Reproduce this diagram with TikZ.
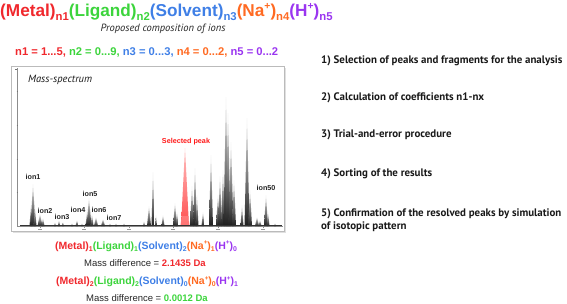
\documentclass[tikz,border=0pt]{standalone}
\usepackage{fontspec}
\setmainfont{Liberation Sans}
\newfontfamily\myr{PT Sans}
\usepackage{graphicx}
\definecolor{cM}{HTML}{F0282D}
\definecolor{cL}{HTML}{3CD43C}
\definecolor{cS}{HTML}{3F7FE6}
\definecolor{cN}{HTML}{FF6A22}
\definecolor{cH}{HTML}{9A35F0}
\definecolor{boxg}{HTML}{BBBBBB}
\newcommand\lo[1]{\raisebox{-0.22em}{\scalebox{0.66}{#1}}}
\newcommand\hi[1]{\raisebox{0.42em}{\scalebox{0.6}{#1}}}
\newcommand\pk[3]{\shade[top color=black!8,bottom color=black!88] (#1-#3,226) -- (#1,#2) -- (#1+#3,226) -- cycle;}
\tikzset{
  titl/.style={inner sep=0pt, font=\bfseries\fontsize{17.2}{20}\selectfont},
  form/.style={inner sep=0pt, anchor=base, font=\bfseries\fontsize{10.5}{12}\selectfont},
  mdiff/.style={inner sep=0pt, anchor=base, font=\fontsize{9.5}{11}\selectfont, text=black!85},
  ionlab/.style={inner sep=0pt, font=\bfseries\fontsize{7.2}{8}\selectfont, text=black!85},
  stepbox/.style={inner sep=0pt, anchor=base west, font=\myr\bfseries\fontsize{10.9}{13}\selectfont, text=black!90, align=left},
}
\begin{document}
\begin{tikzpicture}[x=1pt,y=-1pt]
\useasboundingbox (0,0) rectangle (567,303);
% title
\node[titl, anchor=base west] (title) at (0,16.5) {\textcolor{cM}{(Metal)\lo{n1}}\textcolor{cL}{(Ligand)\lo{n2}}\textcolor{cS}{(Solvent)\lo{n3}}\textcolor{cN}{(Na\hi{+})\lo{n4}}\textcolor{cH}{(H\hi{+})\lo{n5}}};
\node[inner sep=0pt, font=\myr\itshape\fontsize{10.5}{12}\selectfont, text=black!85] (sub) at (163,28.5) {Proposed composition of ions};
\node[inner sep=0pt, anchor=base west, font=\bfseries\fontsize{11.2}{13}\selectfont] (nline) at (15,55.5) {\textcolor{cM}{n1 = 1...5,} \textcolor{cL}{n2 = 0...9,} \textcolor{cS}{n3 = 0...3,} \textcolor{cN}{n4 = 0...2,} \textcolor{cH}{n5 = 0...2}};
% spectrum box
\fill[black!12] (12.5,67.5) rectangle (285.5,232.5);
\draw[boxg, fill=white, line width=0.8pt] (11,66) rectangle (284,231);
\draw[black!45, line width=0.4pt] (17,68) -- (17,226) -- (283,226);
\foreach \yy in {91,125,159,192} \draw[black!55, line width=0.8pt] (16.5,\yy) -- (17.8,\yy);
\draw[black!55, line width=0.6pt] (15,69) -- (17,69);
\foreach \xx in {40,84,129,173,218,263} {\draw[black!45] (\xx,226) -- (\xx,227.5); \draw[black!40, line width=0.7pt] (\xx-2,229.5) -- (\xx+2,229.5);}
\node[inner sep=0pt, anchor=base west, font=\myr\itshape\fontsize{10.5}{12}\selectfont, text=black!90] (mslab) at (28,82) {Mass-spectrum};
% peaks
\pk{31}{205}{1.5}\pk{33}{184}{2.5}\pk{35}{208}{1.5}
\pk{40}{214}{2.5}\pk{43}{218}{1.5}
\pk{55}{222}{1}\pk{59}{220}{1.2}\pk{63}{222}{1}
\pk{72}{223}{1}\pk{77}{220}{1.5}\pk{82}{223}{1}
\pk{87}{212}{1.5}\pk{89}{198}{2.5}\pk{92}{214}{1.5}
\pk{96}{217}{2}\pk{103}{219}{2}
\pk{110}{223}{1}\pk{116}{223}{1}\pk{124}{223}{1}
\pk{144}{221}{1}\pk{149}{206}{2}\pk{153}{172}{1.5}\pk{156}{215}{1}
\pk{163}{215}{1.5}
\pk{175}{203}{2}\pk{177}{212}{1.5}
\shade[top color=red!25, bottom color=red!70] (181,226) -- (185,148) -- (189,226) -- cycle;
\fill[red!45, opacity=0.6] (180,226) -- (182,216) -- (188,216) -- (190,226) -- cycle;
\pk{192}{186}{2}\pk{195}{168}{2}\pk{197}{195}{1.5}
\pk{203}{212}{1.5}
\pk{211}{155}{2}
\pk{218}{195}{2}\pk{220}{176}{2}\pk{223}{170}{2}
\pk{226}{97}{2.5}\pk{228}{113}{2.5}\pk{231}{142}{2.5}\pk{234}{180}{2}
\pk{242}{205}{1.5}\pk{247}{118}{2.5}\pk{250}{190}{2}
\pk{257}{217}{2}\pk{260}{220}{1.5}
\pk{266}{195}{2}\pk{268}{212}{1.5}
\pk{275}{223}{1}
\draw[black!80, line width=0.8pt] (20,225.5) -- (282,225.5);
% labels
\node[ionlab] (i1) at (33,177) {ion1};
\node[ionlab] (i2) at (45,211) {ion2};
\node[ionlab] (i3) at (62,217) {ion3};
\node[ionlab] (i4) at (78,210) {ion4};
\node[ionlab] (i5) at (90,194) {ion5};
\node[ionlab] (i6) at (99,210) {ion6};
\node[ionlab] (i7) at (114,218) {ion7};
\node[ionlab, text=red!90] (sel) at (186,142) {Selected peak};
\node[ionlab] (i50) at (266,188) {ion50};
% bottom formulas
\node[form] (f1) at (146,249) {\textcolor{cM}{(Metal)\lo{1}}\textcolor{cL}{(Ligand)\lo{1}}\textcolor{cS}{(Solvent)\lo{2}}\textcolor{cN}{(Na\hi{+})\lo{1}}\textcolor{cH}{(H\hi{+})\lo{0}}};
\node[mdiff] (m1) at (145,266.5) {Mass difference = \textcolor{cM}{\bfseries 2.1435 Da}};
\node[form] (f2) at (147,284.5) {\textcolor{cM}{(Metal)\lo{2}}\textcolor{cL}{(Ligand)\lo{2}}\textcolor{cS}{(Solvent)\lo{0}}\textcolor{cN}{(Na\hi{+})\lo{0}}\textcolor{cH}{(H\hi{+})\lo{1}}};
\node[mdiff] (m2) at (147,301.5) {Mass difference = \textcolor{cL}{\bfseries 0.0012 Da}};
% steps
\node[stepbox] (s1) at (321,63) {1) Selection of peaks and fragments for the analysis};
\node[stepbox] (s2) at (321,100) {2) Calculation of coefficients n1-nx};
\node[stepbox] (s3) at (321,137) {3) Trial-and-error procedure};
\node[stepbox] (s4) at (321,176) {4) Sorting of the results};
\node[stepbox] (s5) at (321,216) {5) Confirmation of the resolved peaks by simulation};
\node[stepbox] (s5b) at (321,229) {of isotopic pattern};
\end{tikzpicture}
\end{document}
